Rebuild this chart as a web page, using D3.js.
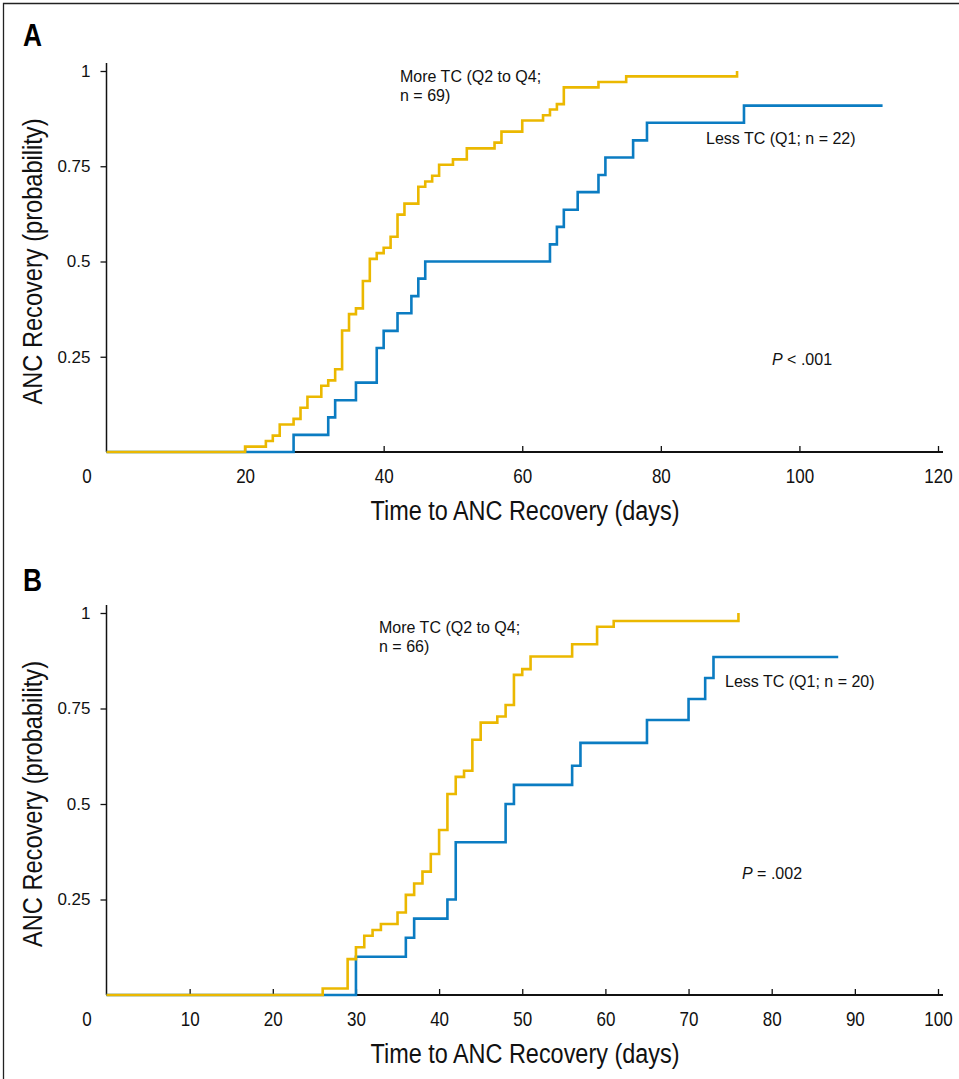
<!DOCTYPE html>
<html>
<head>
<meta charset="utf-8">
<script src="https://cdn.jsdelivr.net/npm/d3@7"></script>
<style>
  body { margin: 0; background: #fff; }
  svg { display: block; }
  .narrow { font-family: "Liberation Sans Narrow", "Liberation Sans", sans-serif; font-stretch: condensed; }
  .reg { font-family: "Liberation Sans", Arial, sans-serif; }
</style>
</head>
<body>
<svg id="chart" width="959" height="1079"></svg>
<script>
// panel A: days to recovery and cumulative probability at each step
var aMoreDays = [20,23,24,25,27,28,29,31,32,33,34,35,36,37,38,39,40,41,42,43,45,46,47,48,50,52,56,57,60,63,64,65,66,71,75,91];
var aMoreProb = [0.014,0.029,0.043,0.072,0.087,0.116,0.145,0.174,0.188,0.217,0.319,0.362,0.377,0.449,0.507,0.522,0.536,0.565,0.623,0.652,0.696,0.710,0.725,0.754,0.768,0.797,0.812,0.841,0.870,0.884,0.899,0.913,0.957,0.971,0.986,1.0];
var aMoreEnd = 91;
var aLessDays = [27,32,33,36,39,40,42,44,45,46,64,65,66,68,71,72,76,78,92];
var aLessProb = [0.045,0.091,0.136,0.182,0.273,0.318,0.364,0.409,0.455,0.5,0.545,0.591,0.636,0.682,0.727,0.773,0.818,0.864,0.909];
var aLessEnd = 112;

// panel B
var bMoreDays = [26,29,30,31,32,33,35,36,37,38,39,40,41,42,43,44,45,47,48,49,50,51,56,59,61,76];
var bMoreProb = [0.017,0.094,0.125,0.155,0.170,0.186,0.216,0.262,0.292,0.323,0.369,0.432,0.526,0.571,0.587,0.668,0.713,0.729,0.759,0.838,0.853,0.886,0.918,0.964,0.979,1.0];
var bMoreEnd = 76;
var bLessDays = [30,36,37,41,42,48,49,56,57,65,70,72,73];
var bLessProb = [0.1,0.15,0.2,0.25,0.4,0.5,0.55,0.6,0.66,0.72,0.775,0.83,0.885];
var bLessEnd = 88;

var yTicks = [0.25, 0.5, 0.75, 1];
var aXTicks = [0, 20, 40, 60, 80, 100, 120];
var bXTicks = [0, 10, 20, 30, 40, 50, 60, 70, 80, 90, 100];

var yellow = '#ebb800';
var blue = '#0b7cc2';

var svg = d3.select('#chart');

// figure frame (left and top edges)
svg.append('path')
  .attr('d', 'M3.5,1079V3.5H959')
  .attr('fill', 'none')
  .attr('stroke', '#222')
  .attr('stroke-width', 1.3);

function steps(days, prob, end) {
  var pts = [{d: 0, p: 0}];
  for (var i = 0; i < days.length; i++) pts.push({d: days[i], p: prob[i]});
  pts.push({d: end, p: prob[prob.length - 1]});
  return pts;
}

// squeeze text horizontally, the original uses a condensed face
function squeeze(sel, k) {
  sel.each(function() {
    var w = this.getComputedTextLength();
    d3.select(this).attr('textLength', w * k).attr('lengthAdjust', 'spacingAndGlyphs');
  });
}

function drawPanel(cfg) {
  var g = svg.append('g');

  var x = d3.scaleLinear().domain(cfg.xDomain).range([106.5, 938]);
  var y = d3.scaleLinear().domain([0, 1]).range([cfg.y0, cfg.y1]);

  // panel letter
  g.append('text')
    .attr('class', 'narrow')
    .attr('x', 23).attr('y', cfg.letterY)
    .attr('font-size', 31).attr('font-weight', 'bold')
    .text(cfg.letter)
    .call(squeeze, 0.85);

  // y axis
  var yAxis = g.append('g')
    .attr('transform', 'translate(106.5,0)')
    .call(d3.axisLeft(y).tickValues(yTicks).tickSize(6).tickPadding(10)
      .tickFormat(function(d) { return d === 1 ? '1' : d; }));
  yAxis.select('.domain').remove();
  yAxis.selectAll('.tick line').attr('stroke', '#111').attr('stroke-width', 1.3);
  yAxis.selectAll('.tick text')
    .attr('class', 'reg').attr('font-size', 17).attr('fill', '#111');
  g.append('line')
    .attr('x1', 106.5).attr('x2', 106.5)
    .attr('y1', y(1) - 8).attr('y2', y(0))
    .attr('stroke', '#111').attr('stroke-width', 1.5);

  // x axis
  var xAxis = g.append('g')
    .attr('transform', 'translate(0,' + y(0) + ')')
    .call(d3.axisBottom(x).tickValues(cfg.xTicks).tickSizeInner(-6).tickSizeOuter(0).tickPadding(17));
  xAxis.select('.domain').remove();
  xAxis.selectAll('.tick line').attr('stroke', '#111').attr('stroke-width', 1.3)
    .filter(function(d) { return d === 0; }).remove();
  xAxis.selectAll('.tick text')
    .attr('class', 'narrow').attr('font-size', 20).attr('fill', '#111')
    .call(squeeze, 0.85)
    .filter(function(d) { return d === 0; }).attr('x', -20);
  g.append('line')
    .attr('x1', 106.5).attr('x2', 943)
    .attr('y1', y(0)).attr('y2', y(0))
    .attr('stroke', '#111').attr('stroke-width', 2);

  // axis titles
  g.append('text')
    .attr('class', 'narrow')
    .attr('x', 525).attr('y', y(0) + 68)
    .attr('text-anchor', 'middle').attr('font-size', 27).attr('fill', '#111')
    .attr('textLength', 309).attr('lengthAdjust', 'spacingAndGlyphs')
    .text('Time to ANC Recovery (days)');
  g.append('text')
    .attr('class', 'narrow')
    .attr('transform', 'translate(42,' + (y(0) + y(1)) / 2 + ') rotate(-90)')
    .attr('text-anchor', 'middle').attr('font-size', 27).attr('fill', '#111')
    .attr('textLength', 286).attr('lengthAdjust', 'spacingAndGlyphs')
    .text('ANC Recovery (probability)');

  var line = d3.line()
    .x(function(d) { return x(d.d); })
    .y(function(d) { return y(d.p); })
    .curve(d3.curveStepAfter);

  g.append('path')
    .datum(steps(cfg.lessDays, cfg.lessProb, cfg.lessEnd))
    .attr('d', line)
    .attr('fill', 'none').attr('stroke', blue).attr('stroke-width', 2.6);
  g.append('path')
    .datum(steps(cfg.moreDays, cfg.moreProb, cfg.moreEnd))
    .attr('d', line)
    .attr('fill', 'none').attr('stroke', yellow).attr('stroke-width', 2.6);

  // annotations
  var t1 = g.append('text').attr('class', 'reg').attr('font-size', 16).attr('fill', '#111');
  t1.append('tspan').attr('x', cfg.moreX).attr('y', cfg.moreY).text('More TC (Q2 to Q4;');
  t1.append('tspan').attr('x', cfg.moreX).attr('y', cfg.moreY + 18.5).text(cfg.moreN);
  g.append('text').attr('class', 'reg').attr('font-size', 16).attr('fill', '#111')
    .attr('x', cfg.lessX).attr('y', cfg.lessY).text(cfg.lessLabel);
  var p = g.append('text').attr('class', 'reg').attr('font-size', 16).attr('fill', '#111')
    .attr('x', cfg.pX).attr('y', cfg.pY);
  p.append('tspan').attr('font-style', 'italic').text('P');
  p.append('tspan').text(cfg.pText);
}

drawPanel({
  letter: 'A', letterY: 46,
  xDomain: [0, 120], xTicks: aXTicks, y0: 452, y1: 71,
  moreDays: aMoreDays, moreProb: aMoreProb, moreEnd: aMoreEnd,
  lessDays: aLessDays, lessProb: aLessProb, lessEnd: aLessEnd,
  moreX: 400, moreY: 82, moreN: 'n = 69)',
  lessX: 706, lessY: 144, lessLabel: 'Less TC (Q1; n = 22)',
  pX: 772, pY: 365, pText: ' < .001'
});

drawPanel({
  letter: 'B', letterY: 591,
  xDomain: [0, 100], xTicks: bXTicks, y0: 995, y1: 613,
  moreDays: bMoreDays, moreProb: bMoreProb, moreEnd: bMoreEnd,
  lessDays: bLessDays, lessProb: bLessProb, lessEnd: bLessEnd,
  moreX: 379, moreY: 633, moreN: 'n = 66)',
  lessX: 725, lessY: 687, lessLabel: 'Less TC (Q1; n = 20)',
  pX: 742, pY: 879, pText: ' = .002'
});
</script>
</body>
</html>
